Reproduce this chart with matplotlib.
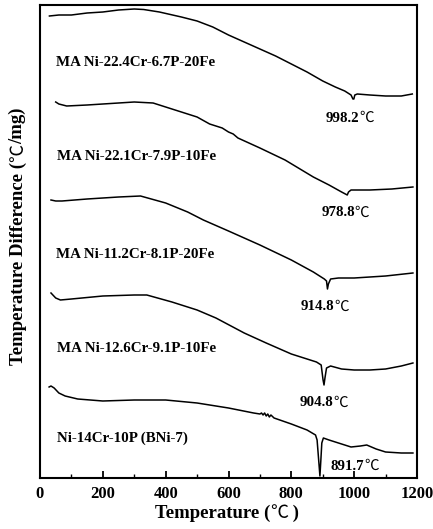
import matplotlib
matplotlib.use("Agg")
import matplotlib.pyplot as plt
from matplotlib.ticker import MultipleLocator

plt.rcParams['font.family'] = ['Liberation Serif', 'DejaVu Serif']
plt.rcParams['font.weight'] = 'bold'

# Curves: temperature (C) and DTA signal (arbitrary units, offset stacked)
t1 = [30, 60, 100, 150, 200, 250, 300, 330, 380, 450, 500, 550, 600, 650, 700, 750, 800, 850, 900, 940, 970, 990, 996, 999, 1002, 1010, 1050, 1100, 1150, 1185]
p1 = [16, 15, 15, 13, 12, 10, 9, 9.5, 12, 17, 21, 27, 35, 42, 49, 56, 64, 72, 81, 87, 91, 95, 99, 99, 95, 94, 95, 96, 96, 94]

t2 = [50, 60, 85, 150, 250, 300, 360, 420, 500, 540, 560, 580, 600, 615, 630, 700, 780, 870, 920, 960, 978, 982, 990, 1050, 1120, 1187]
p2 = [102, 104, 106, 105, 103, 102, 103, 109, 117, 124, 126, 128, 132, 134, 138, 148, 160, 177, 185, 192, 195, 192, 190, 190, 189, 187]

t3 = [35, 50, 70, 150, 250, 320, 400, 470, 520, 600, 700, 800, 870, 905, 912, 915, 918, 925, 950, 1000, 1100, 1187]
p3 = [200, 201, 201, 199, 197, 196, 203, 212, 220, 231, 245, 260, 272, 279, 281, 289, 284, 279, 278, 278, 276, 273]

t4 = [35, 50, 65, 100, 200, 300, 340, 420, 500, 560, 650, 720, 800, 880, 895, 901, 904, 907, 912, 925, 960, 1000, 1050, 1100, 1150, 1187]
p4 = [293, 298, 300, 299, 296, 295, 295, 302, 310, 318, 333, 343, 354, 362, 365, 380, 385, 378, 368, 366, 369, 370, 370, 369, 366, 363]

t5 = [29, 35, 45, 60, 80, 120, 200, 300, 400, 500, 600, 680, 700, 705, 710, 715, 720, 725, 730, 735, 745, 800, 850, 877, 882, 887, 891, 894, 897, 902, 920, 960, 990, 1020, 1040, 1070, 1100, 1150, 1187]
p5 = [387, 386, 388, 393, 396, 399, 401, 400, 400, 403, 408, 413, 414, 413, 415, 413, 416, 414, 417, 415, 418, 424, 430, 435, 440, 460, 476, 460, 443, 438, 440, 444, 447, 446, 445, 449, 452, 453, 453]

series_t = [t1, t2, t3, t4, t5]
series_p = [p1, p2, p3, p4, p5]

names = ["MA Ni-22.4Cr-6.7P-20Fe", "MA Ni-22.1Cr-7.9P-10Fe", "MA Ni-11.2Cr-8.1P-20Fe",
         "MA Ni-12.6Cr-9.1P-10Fe", "Ni-14Cr-10P (BNi-7)"]
peaks = ["998.2", "978.8", "914.8", "904.8", "891.7"]

xticks = [0, 200, 400, 600, 800, 1000, 1200]

CJK = 'Noto Sans CJK SC'

fig = plt.figure(figsize=(4.33, 5.29), dpi=100)
ax = fig.add_axes([40/433, 1-478/529, 377/433, 473/529])

for t, p in zip(series_t, series_p):
    ax.plot(t, [478 - v for v in p], color='black', lw=1.1)

name_pos = [(50, 63), (55, 157), (52, 255), (55, 348), (55, 438)]
peak_pos = [(910, 118), (895, 213), (830, 307), (825, 403), (925, 466)]
for (x, py), s in zip(name_pos, names):
    ax.text(x, 478 - py, s, fontsize=10.8, fontweight='bold', ha='left', va='center')
for (x, py), s in zip(peak_pos, peaks):
    t = ax.text(x, 478 - py, s, fontsize=10.8, fontweight='bold', ha='left', va='center')
    ax.annotate("℃", xy=(1, 0.5), xycoords=t, fontsize=10.5, family=[CJK],
                fontweight='normal', ha='left', va='center')

ax.set_xlim(0, 1200)
ax.set_ylim(0, 473)
ax.set_xticks(xticks)
ax.set_xticklabels([str(v) for v in xticks], fontsize=12, fontweight='bold')
ax.xaxis.set_minor_locator(MultipleLocator(100))
ax.tick_params(axis='x', which='major', direction='in', length=5, width=1.3, pad=6)
ax.tick_params(axis='x', which='minor', direction='in', length=3, width=1.0)
ax.set_yticks([])
for sp in ax.spines.values():
    sp.set_linewidth(1.5)

# x label: "Temperature (℃ )"
fs = 13.5
a = fig.text(155/433, 1 - 513/529, "Temperature (", fontsize=fs, fontweight='bold',
             ha='left', va='center')
b = fig.text(0, 0, "℃", fontsize=fs - 0.5, family=[CJK], fontweight='normal')
b.remove()
b = ax.annotate("℃", xy=(1, 0.5), xycoords=a, fontsize=fs - 0.5, family=[CJK],
                fontweight='normal', ha='left', va='center', annotation_clip=False)
ax.annotate(" )", xy=(1, 0.5), xycoords=b, fontsize=fs, fontweight='bold',
            ha='left', va='center', annotation_clip=False)

# y label: "Temperature Difference (℃/mg)"
c = fig.text(18/433, 1 - 365/529, "Temperature Difference (", fontsize=fs, fontweight='bold',
             rotation=90, ha='center', va='bottom')
d = ax.annotate("℃", xy=(0.5, 1), xycoords=c, fontsize=fs - 0.5, family=[CJK],
                fontweight='normal', rotation=90, ha='center', va='bottom', annotation_clip=False)
ax.annotate("/mg)", xy=(0.5, 1), xycoords=d, fontsize=fs, fontweight='bold',
            rotation=90, ha='center', va='bottom', annotation_clip=False)

fig.savefig("out.png", dpi=100)
